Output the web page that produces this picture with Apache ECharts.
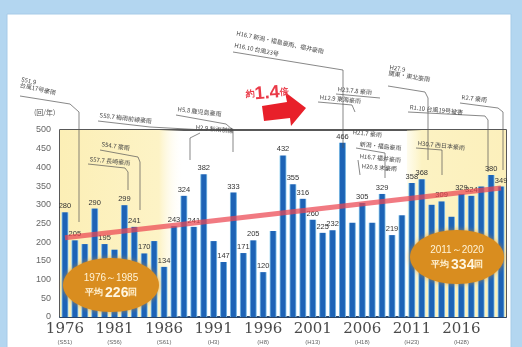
<!DOCTYPE html>
<html><head><meta charset="utf-8">
<script src="https://cdn.jsdelivr.net/npm/echarts@6/dist/echarts.min.js"></script>
<style>html,body{margin:0;padding:0;background:#b3d6f0;overflow:hidden}#c{width:522px;height:347px}</style>
</head><body><div id="c"></div>
<script>
// ---- data ----
const years = ['1976','1977','1978','1979','1980','1981','1982','1983','1984','1985',
  '1986','1987','1988','1989','1990','1991','1992','1993','1994','1995',
  '1996','1997','1998','1999','2000','2001','2002','2003','2004','2005',
  '2006','2007','2008','2009','2010','2011','2012','2013','2014','2015',
  '2016','2017','2018','2019','2020'];
const counts = [280,205,195,290,195,180,299,241,170,203,
  134,243,324,241,382,203,147,333,171,205,
  120,230,432,355,316,260,225,232,466,252,
  305,252,329,219,272,358,368,300,309,268,
  329,324,349,380,349];
const eraLabels = {'1976':'(S51)','1981':'(S56)','1986':'(S61)','1991':'(H3)','1996':'(H8)',
  '2001':'(H13)','2006':'(H18)','2011':'(H23)','2016':'(H28)'};
const labeledYears = ['1976','1977','1979','1980','1982','1983','1984','1986','1987','1988','1989','1990',
  '1992','1993','1994','1995','1996','1998','1999','2000','2001','2002','2003','2004','2006','2008',
  '2009','2011','2012','2014','2016','2017','2019','2020'];
const trendStart = 212, trendEnd = 345;
const earlyPeriod = ['1976','1985'], latePeriod = ['2011','2020'];
const earlyText = '1976～1985', earlyAvg = '226';
const lateText = '2011～2020', lateAvg = '334';
const yTicks = {min:0, max:500, interval:50};
const unitLabel = '(回/年)';

// ---- chart ----
const chart = echarts.init(document.getElementById('c'), null, {renderer:'canvas'});
const note = (t, x, y, rot) => ({type:'text', z:60, rotation:rot||-0.14, x:x, y:y,
  style:{text:t, font:'6px "Noto Sans CJK JP"', fill:'#444'}});
const pl = (pts) => ({type:'polyline', z:59, shape:{points:pts}, style:{stroke:'#555', lineWidth:0.7, fill:null}});

const option = {
  backgroundColor:'#b3d6f0',
  animation:false,
  grid:{left:60, right:16, top:130, bottom:30, show:true, borderColor:'#222', borderWidth:1.5, backgroundColor:'transparent'},
  xAxis:{type:'category', data:years, boundaryGap:true,
    axisLine:{lineStyle:{color:'#1b3f6e', width:1.5}}, axisTick:{show:false},
    axisLabel:{interval:4, margin:4, formatter:(v)=>'{y|'+v+'}\n{e|'+(eraLabels[v]||'')+'}',
      rich:{y:{fontFamily:'DejaVu Serif', fontSize:15, color:'#4a4a4a', lineHeight:16},
            e:{fontSize:6, color:'#666', lineHeight:10}}}},
  yAxis:{type:'value', min:yTicks.min, max:yTicks.max, interval:yTicks.interval,
    axisLine:{show:false}, axisTick:{show:false}, splitLine:{show:false},
    axisLabel:{fontSize:9, color:'#666', margin:9, fontFamily:'Liberation Sans'}},
  series:[{
    type:'bar', barWidth:7, z:3,
    data:counts.map((v,i)=>({value:v, label:{show:labeledYears.includes(years[i])}})),
    itemStyle:{color:new echarts.graphic.LinearGradient(0,0,1,0,[
      {offset:0,color:'#9fd8f4'},{offset:0.22,color:'#1d63b6'},{offset:0.78,color:'#1d63b6'},{offset:1,color:'#9fd8f4'}])},
    label:{position:'top', fontSize:7.5, color:'#333', distance:2},
    markArea:{silent:true, z:1, data:[
      [{xAxis:earlyPeriod[0], itemStyle:{color:new echarts.graphic.LinearGradient(0,0,1,0,[
          {offset:0,color:'#fcefb6'},{offset:0.8,color:'#fdf3c6'},{offset:1,color:'rgba(255,255,255,0)'}])}},
       {xAxis:'1986'}],
      [{xAxis:latePeriod[0], itemStyle:{color:new echarts.graphic.LinearGradient(0,0,1,0,[
          {offset:0,color:'rgba(253,245,200,0.3)'},{offset:0.15,color:'#fcf2c2'},{offset:1,color:'#fcf0bc'}])}},
       {xAxis:latePeriod[1]}]
    ]},
    markLine:{silent:true, symbol:'none', label:{show:false}, z:5,
      lineStyle:{color:'rgba(236,70,82,0.72)', width:5, type:'solid'},
      data:[[{coord:[years[0], trendStart]},{coord:[years[years.length-1], trendEnd]}]]}
  }],
  graphic:[
    {type:'rect', z:-100, shape:{x:7,y:14,width:504,height:340}, style:{fill:'#ffffff', stroke:'#a6cbe8', lineWidth:1}},
    {type:'text', z:60, x:34, y:109, style:{text:unitLabel, font:'7px "Noto Sans CJK JP"', fill:'#555'}},
    // annotations
    note('S51.9\n台風17号豪雨', 22, 76, -0.22), pl([[20,96],[70,104],[79,112],[79,222]]),
    note('S58.7 梅雨前線豪雨', 100, 112, -0.12), pl([[98,121],[150,127],[205,130]]),
    note('S54.7 豪雨', 102, 141, -0.15), pl([[100,150],[138,157],[140,162],[140,210]]),
    note('S57.7 長崎豪雨', 90, 156, -0.1), pl([[88,164],[125,168],[128,172],[128,190]]),
    note('H5.8 鹿児島豪雨', 178, 106, -0.12), pl([[176,115],[226,124],[233,130],[233,152]]),
    note('H2.9 秋雨前線', 196, 124, -0.1), pl([[200,133],[190,138],[190,160]]),
    note('H16.7 新潟・福島豪雨、福井豪雨', 237, 30, -0.21),
    note('H16.10 台風23号', 235, 42, -0.2), pl([[233,52],[300,63],[343,70],[343,148]]),
    note('H12.9 東海豪雨', 320, 94, -0.1), pl([[318,102],[352,105],[355,112]]),
    note('H23.7.8 豪雨', 338, 86, -0.1), pl([[336,94],[380,98]]),
    note('H21.7 豪雨', 353, 129, -0.1),
    note('新潟・福島豪雨', 360, 141, -0.1), pl([[356,148],[385,153],[385,178]]),
    note('H16.7 福井豪雨', 360, 153, -0.1), pl([[358,160],[360,175]]),
    note('H20.8 末豪雨', 362, 163, -0.08),
    note('H27.9\n関東・東北豪雨', 390, 64, -0.16), pl([[388,86],[425,92],[428,98],[428,160]]),
    note('R1.10 台風19号被害', 410, 104, -0.1), pl([[408,112],[485,116],[488,120],[488,172]]),
    note('R2.7 豪雨', 462, 94, -0.12), pl([[460,103],[498,108],[503,112],[503,170]]),
    note('H30.7 西日本豪雨', 418, 140, -0.1), pl([[416,148],[442,150],[442,175]]),
    // red arrow and ratio
    {type:'polygon', z:70, shape:{points:[[262,106],[287,102],[285,92],[306,108],[291,126],[290,118],[264,121]]},
      style:{fill:'#e8202a'}},
    {type:'text', z:70, x:245, y:86, rotation:0.08,
      style:{text:'{a|約}{b|1.4}{a|倍}', rich:{a:{fontSize:9, fill:'#ea3a48', fontWeight:'bold'},
        b:{fontSize:18, fontWeight:'bold', fill:'#ea3a48', fontFamily:'Liberation Sans'}}}},
    // period ellipses
    {type:'ellipse', z:80, shape:{cx:111,cy:285,rx:48,ry:27},
      style:{fill:'#d98d1f', shadowBlur:5, shadowColor:'rgba(217,141,31,0.7)'}},
    {type:'text', z:81, x:111, y:285, style:{text:'{a|'+earlyText+'}\n{c|平均 }{b|'+earlyAvg+'}{c|回}',
      align:'center', verticalAlign:'middle', textAlign:'center', textVerticalAlign:'middle',
      rich:{a:{fontSize:10, fill:'#fff3d6', lineHeight:16, fontFamily:'Liberation Sans'},
            b:{fontSize:14, fontWeight:'bold', fill:'#fff6e0', fontFamily:'Liberation Sans'},
            c:{fontSize:9, fontWeight:'bold', fill:'#fff3d6'}}}},
    {type:'ellipse', z:80, shape:{cx:457,cy:257,rx:47,ry:27},
      style:{fill:'#d98d1f', shadowBlur:5, shadowColor:'rgba(217,141,31,0.7)'}},
    {type:'text', z:81, x:457, y:257, style:{text:'{a|'+lateText+'}\n{c|平均 }{b|'+lateAvg+'}{c|回}',
      align:'center', verticalAlign:'middle', textAlign:'center', textVerticalAlign:'middle',
      rich:{a:{fontSize:10, fill:'#fff3d6', lineHeight:16, fontFamily:'Liberation Sans'},
            b:{fontSize:14, fontWeight:'bold', fill:'#fff6e0', fontFamily:'Liberation Sans'},
            c:{fontSize:9, fontWeight:'bold', fill:'#fff3d6'}}}}
  ]
};
chart.setOption(option);
</script></body></html>
